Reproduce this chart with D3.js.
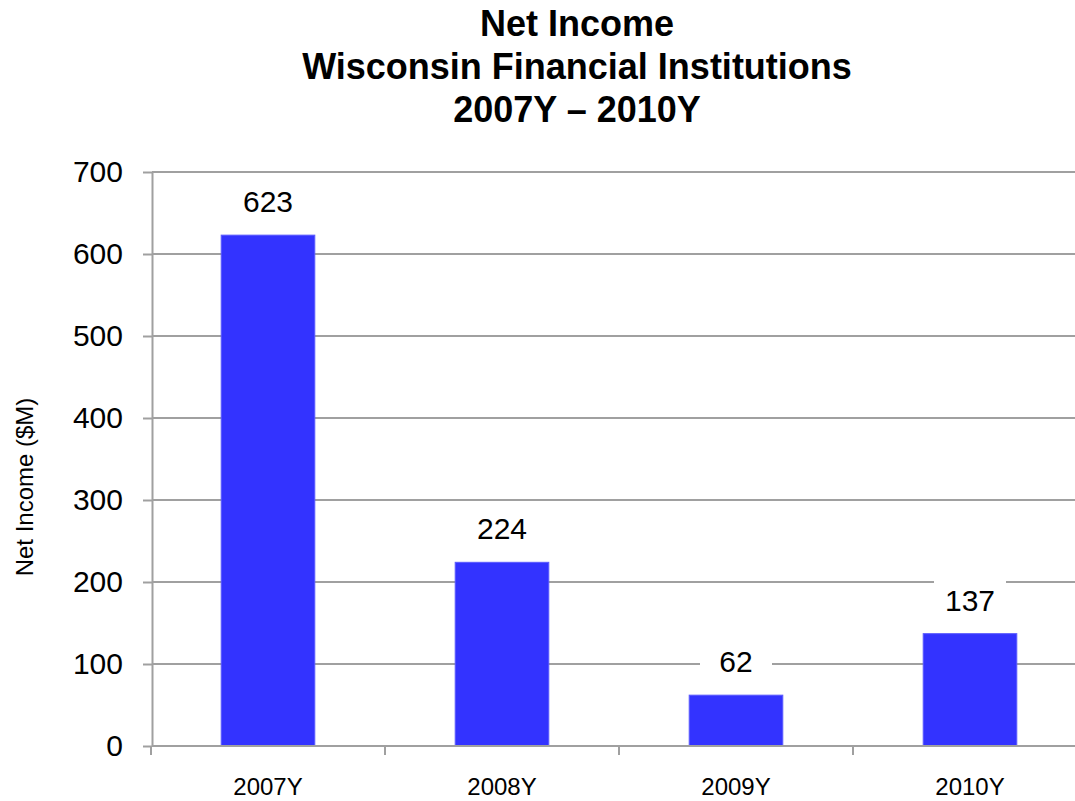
<!DOCTYPE html>
<html>
<head>
<meta charset="utf-8">
<script src="https://cdn.jsdelivr.net/npm/d3@7"></script>
<style>
  html, body { margin: 0; padding: 0; background: #fff; }
  svg { display: block; font-family: Arial, "Liberation Sans", sans-serif; }
</style>
</head>
<body>
<svg id="chart" width="1075" height="801"></svg>
<script>
// Net income by year, $ millions
const categories = ["2007Y", "2008Y", "2009Y", "2010Y"];
const netIncome = [623, 224, 62, 137];
const yTicks = [0, 100, 200, 300, 400, 500, 600, 700];
const titleLines = ["Net Income", "Wisconsin Financial Institutions", "2007Y \u2013 2010Y"];
const yAxisTitle = "Net Income ($M)";

const svg = d3.select("#chart");
const gridColor = "#a0a0a0";

const x = d3.scaleBand()
  .domain(categories)
  .range([151, 1087])
  .paddingInner(0.6)
  .paddingOuter(0.3);

const y = d3.scaleLinear()
  .domain([0, 700])
  .range([746, 172]);

// Title
svg.append("g")
  .selectAll("text")
  .data(titleLines)
  .join("text")
  .attr("x", 577)
  .attr("y", (d, i) => 36 + i * 43)
  .attr("text-anchor", "middle")
  .attr("font-size", 36)
  .attr("font-weight", "bold")
  .attr("fill", "#000")
  .text(d => d);

// Horizontal gridlines
svg.append("g")
  .selectAll("line")
  .data(yTicks.filter(t => t > 0))
  .join("line")
  .attr("x1", 152)
  .attr("x2", 1087)
  .attr("y1", d => y(d))
  .attr("y2", d => y(d))
  .attr("stroke", gridColor)
  .attr("stroke-width", 2);

// Y axis
const yAxis = svg.append("g")
  .attr("transform", "translate(152,0)")
  .call(d3.axisLeft(y).tickValues(yTicks).tickSize(9).tickPadding(20).tickSizeOuter(0));
yAxis.select(".domain").attr("stroke", gridColor).attr("stroke-width", 2);
yAxis.selectAll(".tick line").attr("stroke", gridColor).attr("stroke-width", 2);
yAxis.selectAll(".tick text")
  .attr("font-size", 30)
  .attr("font-family", "Arial, 'Liberation Sans', sans-serif")
  .attr("fill", "#000");

// Y axis title
svg.append("text")
  .attr("transform", "translate(33,487) rotate(-90)")
  .attr("text-anchor", "middle")
  .attr("font-size", 24)
  .attr("fill", "#000")
  .text(yAxisTitle);

// Bars
svg.append("g")
  .selectAll("rect")
  .data(netIncome)
  .join("rect")
  .attr("x", (d, i) => x(categories[i]))
  .attr("y", d => y(d))
  .attr("width", x.bandwidth())
  .attr("height", d => y(0) - y(d))
  .attr("fill", "#3333ff")
  .attr("stroke", "#5a5aff")
  .attr("stroke-width", 1);

// X axis (category boundaries as ticks)
const xAxisY = 746;
svg.append("line")
  .attr("x1", 152).attr("x2", 1087)
  .attr("y1", xAxisY).attr("y2", xAxisY)
  .attr("stroke", gridColor).attr("stroke-width", 2);

const step = x.step();
svg.append("g")
  .selectAll("line")
  .data(categories)
  .join("line")
  .attr("x1", d => x(d) - x.paddingInner() * step / 2)
  .attr("x2", d => x(d) - x.paddingInner() * step / 2)
  .attr("y1", xAxisY)
  .attr("y2", xAxisY + 9)
  .attr("stroke", gridColor)
  .attr("stroke-width", 2);

svg.append("g")
  .selectAll("text")
  .data(categories)
  .join("text")
  .attr("x", d => x(d) + x.bandwidth() / 2)
  .attr("y", 795)
  .attr("text-anchor", "middle")
  .attr("font-size", 24)
  .attr("fill", "#000")
  .text(d => d);

// Value labels with white backing
const labels = svg.append("g")
  .selectAll("g")
  .data(netIncome)
  .join("g")
  .attr("transform", (d, i) => `translate(${x(categories[i]) + x.bandwidth() / 2},${y(d) - 23})`);

labels.append("rect")
  .attr("x", -36)
  .attr("y", -36)
  .attr("width", 72)
  .attr("height", 46)
  .attr("fill", "#fff");

labels.append("text")
  .attr("text-anchor", "middle")
  .attr("font-size", 30)
  .attr("fill", "#000")
  .text(d => d);
</script>
</body>
</html>
